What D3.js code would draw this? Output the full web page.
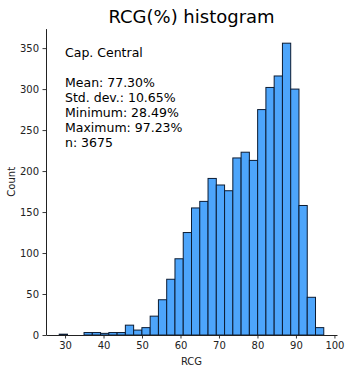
<!DOCTYPE html>
<html>
<head>
<meta charset="utf-8">
<script src="https://cdn.jsdelivr.net/npm/d3@7"></script>
<style>
  html, body { margin: 0; padding: 0; background: #fff; }
  svg { display: block; font-family: "DejaVu Sans", sans-serif; }
</style>
</head>
<body>
<svg id="chart" width="348" height="368"></svg>
<script>
// Summary statistics of RCG(%) for Cap. Central
const groupName = "Cap. Central";
const statLabels = ["Mean", "Std. dev.", "Minimum", "Maximum", "n"];
const statValues = ["77.30%", "10.65%", "28.49%", "97.23%", "3675"];
const dataMin = 28.49;
const dataMax = 97.23;
const binCount = 32;

// Counts per bin, from dataMin to dataMax
const binCounts = [
  1, 0, 0, 3, 3, 2, 3, 3, 12, 6, 9, 23, 43, 68, 93, 125,
  155, 163, 191, 183, 176, 216, 223, 213, 275, 302, 316, 356, 300, 158, 46, 9
];

const xTicks = [30, 40, 50, 60, 70, 80, 90, 100];
const yTicks = [0, 50, 100, 150, 200, 250, 300, 350];

const binWidth = (dataMax - dataMin) / binCount;
const bins = binCounts.map((c, i) => ({
  x0: dataMin + i * binWidth,
  x1: dataMin + (i + 1) * binWidth,
  count: c
}));

const svg = d3.select("#chart");
const margin = { left: 46, right: 11, top: 28.6, bottom: 33 };
const W = 348, H = 368;

const pad = (dataMax - dataMin) * 0.05;
const x = d3.scaleLinear()
  .domain([dataMin - pad, dataMax + pad])
  .range([margin.left, W - margin.right]);
const y = d3.scaleLinear()
  .domain([0, d3.max(binCounts) * 1.05])
  .range([H - margin.bottom, margin.top]);

// Bars
svg.append("g")
  .selectAll("rect")
  .data(bins.filter(b => b.count > 0))
  .join("rect")
  .attr("x", d => x(d.x0))
  .attr("width", d => x(d.x1) - x(d.x0))
  .attr("y", d => y(d.count))
  .attr("height", d => y(0) - y(d.count))
  .attr("fill", "#4da5fb")
  .attr("stroke", "#0c1c33")
  .attr("stroke-width", 1);

// Axes
const xAxis = svg.append("g")
  .attr("transform", `translate(0,${H - margin.bottom})`)
  .call(d3.axisBottom(x).tickValues(xTicks).tickSize(3.5).tickPadding(3.5).tickSizeOuter(0));
const yAxis = svg.append("g")
  .attr("transform", `translate(${margin.left},0)`)
  .call(d3.axisLeft(y).tickValues(yTicks).tickSize(3.5).tickPadding(3.5).tickSizeOuter(0));

[xAxis, yAxis].forEach(g => {
  g.selectAll("text")
    .attr("font-family", "DejaVu Sans, sans-serif")
    .attr("font-size", 10)
    .attr("fill", "#222");
  g.selectAll("line").attr("stroke", "#222").attr("stroke-width", 0.9);
  g.select(".domain").attr("stroke", "#222").attr("stroke-width", 1);
});

// Axis titles
svg.append("text")
  .attr("x", (x.range()[0] + x.range()[1]) / 2)
  .attr("y", 364.5)
  .attr("text-anchor", "middle")
  .attr("font-size", 10)
  .attr("fill", "#222")
  .text("RCG");

svg.append("text")
  .attr("transform", `translate(14.5,${(y.range()[0] + y.range()[1]) / 2}) rotate(-90)`)
  .attr("text-anchor", "middle")
  .attr("font-size", 10)
  .attr("fill", "#222")
  .text("Count");

// Chart title
svg.append("text")
  .attr("x", (x.range()[0] + x.range()[1]) / 2)
  .attr("y", 23)
  .attr("text-anchor", "middle")
  .attr("font-size", 18)
  .attr("fill", "#000")
  .text("RCG(%) histogram");

// Stats box
const lines = [groupName, ""].concat(statLabels.map((l, i) => `${l}: ${statValues[i]}`));
const stats = svg.append("text")
  .attr("x", 65)
  .attr("y", 56.5)
  .attr("font-size", 12.5)
  .attr("fill", "#000");
lines.forEach((t, i) => {
  stats.append("tspan")
    .attr("x", 65)
    .attr("y", 56.5 + i * 15)
    .text(t);
});
</script>
</body>
</html>
